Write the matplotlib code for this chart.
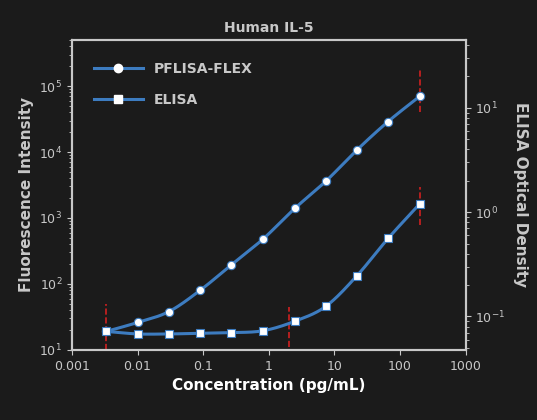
import numpy as np
import matplotlib.pyplot as plt

conc = [0.0033, 0.01, 0.03, 0.09, 0.27, 0.82, 2.5, 7.4, 22, 66, 200]
pflisa = [19, 26, 38, 80, 195, 480, 1400, 3600, 10700, 29000, 70000]
elisa = [0.072, 0.068, 0.068, 0.069, 0.070, 0.073, 0.090, 0.125, 0.245, 0.56, 1.2]

# red dashed error marks: (x, low, high) on the axis they belong to
err_left = [(0.0033, 10, 50), (2.0, 11, 45), (200, 40000, 180000)]
err_right = [(200, 0.75, 1.75)]

bg = "#1b1b1b"
fg = "#c8c8c8"
blue = "#3d7cc0"

fig = plt.figure(figsize=(5.37, 4.2), dpi=100, facecolor=bg)
ax = fig.add_axes([0.134, 0.167, 0.733, 0.738], facecolor=bg)
ax2 = ax.twinx()

def smooth(x, y):
    lx, ly = np.log10(x), np.log10(y)
    t = np.linspace(lx[0], lx[-1], 300)
    # monotone-ish cubic through the points
    d = np.diff(ly) / np.diff(lx)
    m = np.concatenate([[d[0]], (d[:-1] + d[1:]) / 2, [d[-1]]])
    out = np.empty_like(t)
    for i, tt in enumerate(t):
        k = min(np.searchsorted(lx, tt) - 1, len(lx) - 2)
        k = max(k, 0)
        h = lx[k + 1] - lx[k]
        s = (tt - lx[k]) / h
        h00 = 2*s**3 - 3*s**2 + 1; h10 = s**3 - 2*s**2 + s
        h01 = -2*s**3 + 3*s**2; h11 = s**3 - s**2
        out[i] = h00*ly[k] + h10*h*m[k] + h01*ly[k+1] + h11*h*m[k+1]
    return 10**t, 10**out

for x, lo, hi in err_left:
    ax.plot([x, x], [lo, hi], color="#d02020", ls="--", lw=1.2, zorder=1)
for x, lo, hi in err_right:
    ax2.plot([x, x], [lo, hi], color="#d02020", ls="--", lw=1.2, zorder=1)

sx, sy = smooth(conc, pflisa)
ax.plot(sx, sy, color=blue, lw=2.2, zorder=2)
ax.plot(conc, pflisa, "o", color="white", mec=blue, mew=0.8, ms=6, zorder=3)
sx, sy = smooth(conc, elisa)
ax2.plot(sx, sy, color=blue, lw=2.2, zorder=2)
ax2.plot(conc, elisa, "s", color="white", mec=blue, mew=0.8, ms=6, zorder=3)

ax.set_xscale("log"); ax.set_yscale("log"); ax2.set_yscale("log")
ax.set_xlim(0.001, 1000)
ax.set_ylim(10, 10**5.7)
ax2.set_ylim(10**-1.32, 10**1.65)
ax.set_xticks([0.001, 0.01, 0.1, 1, 10, 100, 1000])
ax.set_xticklabels(["0.001", "0.01", "0.1", "1", "10", "100", "1000"])

for a in (ax, ax2):
    for s in a.spines.values():
        s.set_color(fg); s.set_linewidth(1.5)
    a.tick_params(colors=fg, which="both", labelsize=9)
ax.tick_params(axis="x", which="minor", bottom=False)

ax.set_xlabel("Concentration (pg/mL)", color="white", fontsize=11, fontweight="bold")
ax.set_ylabel("Fluorescence Intensity", color=fg, fontsize=11, fontweight="bold")
ax2.set_ylabel("ELISA Optical Density", color=fg, fontsize=11, fontweight="bold",
               rotation=270, labelpad=16)
ax.set_title("Human IL-5", color=fg, fontsize=10, fontweight="bold")

h1, = ax.plot([], [], "-o", color=blue, lw=2.2, mfc="white", mec="white", ms=6)
h2, = ax.plot([], [], "-s", color=blue, lw=2.2, mfc="white", mec="white", ms=6)
leg = ax.legend([h1, h2], ["PFLISA-FLEX", "ELISA"], loc="upper left", frameon=False,
                prop={"weight": "bold", "size": 10}, handlelength=3.5,
                borderaxespad=1.2, labelspacing=1.2)
for t in leg.get_texts():
    t.set_color(fg)

fig.savefig("out.png", dpi=100, facecolor=bg)
